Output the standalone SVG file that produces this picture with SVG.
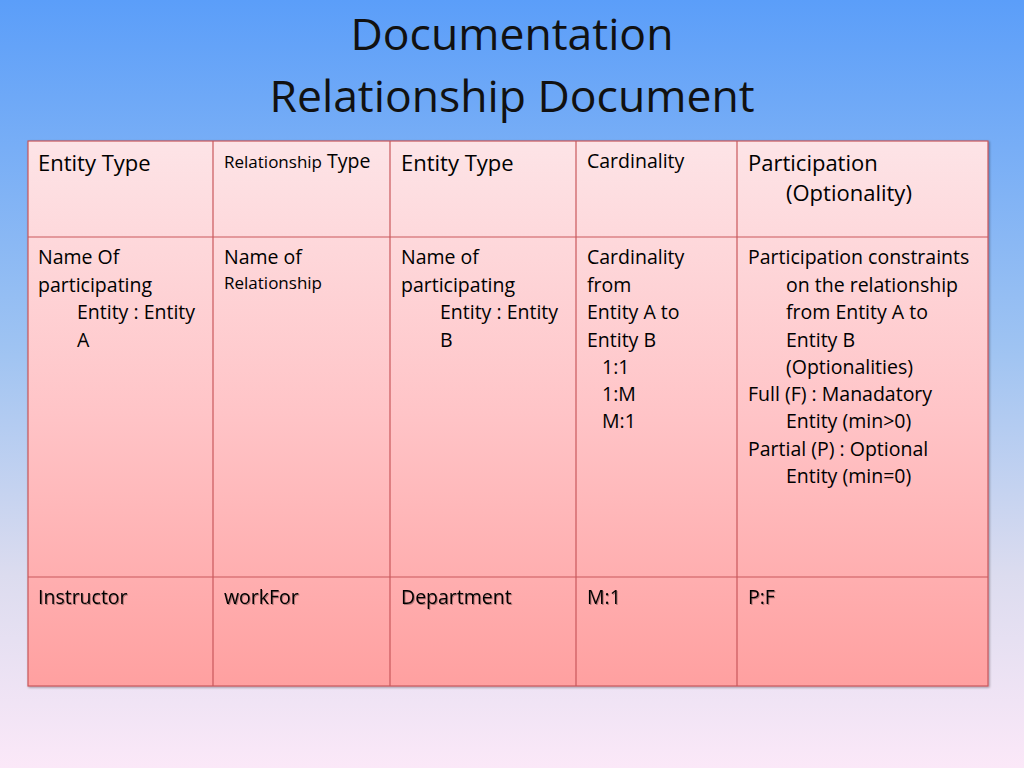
<svg xmlns="http://www.w3.org/2000/svg" width="1024" height="768" viewBox="0 0 1024 768">
<defs>
<linearGradient id="bg" x1="0" y1="0" x2="0" y2="1">
<stop offset="0" stop-color="#5b9ef9"/><stop offset="0.45" stop-color="#9ec3f2"/><stop offset="0.75" stop-color="#dcdcef"/><stop offset="1" stop-color="#fbe8f8"/>
</linearGradient>
<linearGradient id="cell" x1="0" y1="0" x2="0" y2="1">
<stop offset="0" stop-color="#fde4e7"/><stop offset="0.5" stop-color="#ffc4c7"/><stop offset="1" stop-color="#ffa0a0"/>
</linearGradient>
<filter id="sh"><feDropShadow dx="1" dy="1" stdDeviation="0.8" flood-color="#000" flood-opacity="0.35"/></filter>
<filter id="tsh"><feDropShadow dx="1" dy="1" stdDeviation="0.6" flood-color="#000" flood-opacity="0.3"/></filter>
</defs>
<style>
text{font-family:"Open Sans","Noto Sans",sans-serif;fill:#000;font-size:19.5px}
.t{font-size:44.5px;text-anchor:middle;fill:#111}
.h{font-size:22px}
.s{font-size:17px}
line{stroke:#c9585c;stroke-width:1.2}
</style>
<rect width="1024" height="768" fill="url(#bg)"/>
<g id="title">
<text class="t" x="512" y="50">Documentation</text>
<text class="t" x="512" y="112">Relationship Document</text>
</g>
<g id="table">
<rect x="28" y="141" width="960" height="545" fill="url(#cell)" stroke="#c9585c" stroke-width="1.2" filter="url(#sh)"/>
<line x1="213" y1="141" x2="213" y2="686"/><line x1="390" y1="141" x2="390" y2="686"/>
<line x1="576" y1="141" x2="576" y2="686"/><line x1="737" y1="141" x2="737" y2="686"/>
<line x1="28" y1="237" x2="988" y2="237"/><line x1="28" y1="577" x2="988" y2="577"/>
</g>
<g id="header">
<text x="38" y="171" class="h">Entity Type</text>
<text x="224" y="168"><tspan class="s">Relationship</tspan> Type</text>
<text x="401" y="171" class="h">Entity Type</text>
<text x="587" y="168" style="font-size:19.5px">Cardinality</text>
<text x="748" y="171" class="h">Participation</text>
<text x="786" y="201" class="h">(Optionality)</text>
</g>
<g id="body">
<text x="38" y="264">Name Of</text><text x="38" y="292">participating</text><text x="77" y="319">Entity : Entity</text><text x="77" y="347">A</text>
<text x="224" y="264">Name of</text><text x="224" y="289" class="s">Relationship</text>
<text x="401" y="264">Name of</text><text x="401" y="292">participating</text><text x="440" y="319">Entity : Entity</text><text x="440" y="347">B</text>
<text x="587" y="264">Cardinality</text><text x="587" y="292">from</text><text x="587" y="319">Entity A to</text><text x="587" y="347">Entity B</text><text x="602" y="374">1:1</text><text x="602" y="401">1:M</text><text x="602" y="428">M:1</text>
<text x="748" y="264">Participation constraints</text><text x="786" y="292">on the relationship</text><text x="786" y="319">from Entity A to</text><text x="786" y="347">Entity B</text><text x="786" y="374">(Optionalities)</text><text x="748" y="401">Full (F) : Manadatory</text><text x="786" y="428">Entity (min&gt;0)</text><text x="748" y="456">Partial (P) : Optional</text><text x="786" y="483">Entity (min=0)</text>
</g>
<g id="example" filter="url(#tsh)">
<text x="38" y="604">Instructor</text>
<text x="224" y="604">workFor</text>
<text x="401" y="604">Department</text>
<text x="587" y="604">M:1</text>
<text x="748" y="604">P:F</text>
</g>
</svg>
